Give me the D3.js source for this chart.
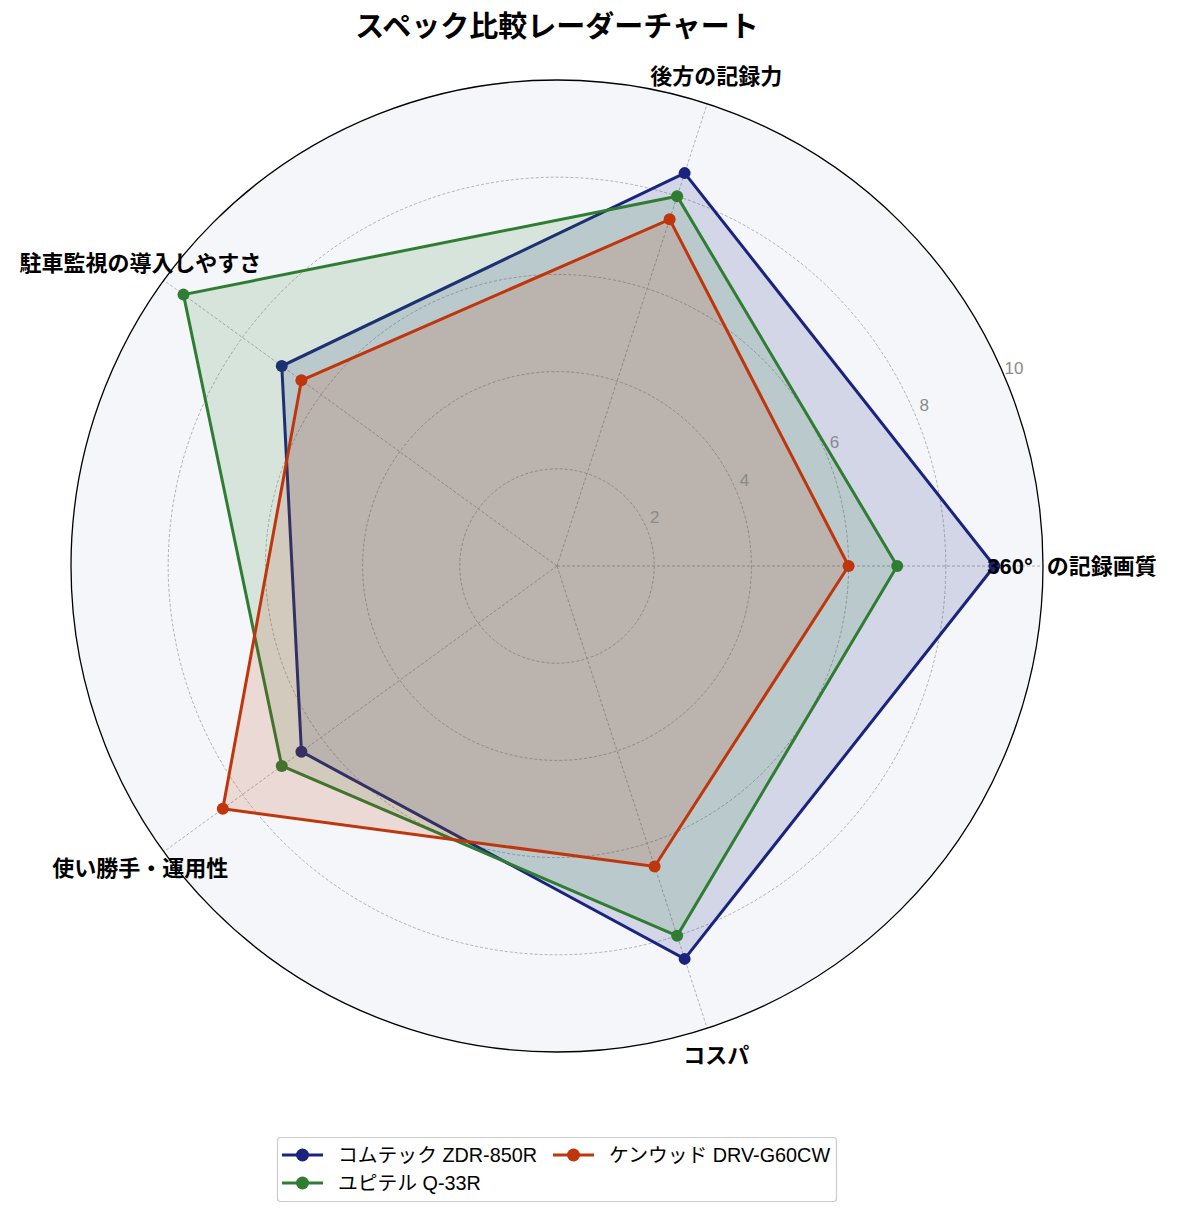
<!DOCTYPE html>
<html>
<head>
<meta charset="utf-8">
<title>スペック比較レーダーチャート</title>
<script src="https://cdn.jsdelivr.net/npm/d3@7"></script>
<style>
  body { margin: 0; background: #fff; }
  text { font-family: "Liberation Sans", "Noto Sans CJK JP", sans-serif; }
</style>
</head>
<body>
<div id="container"></div>
<script>
  var categories = ["360°の記録画質", "後方の記録力", "駐車監視の導入しやすさ", "使い勝手・運用性", "コスパ"];
  var seriesNames = ["コムテック ZDR-850R", "ユピテル Q-33R", "ケンウッド DRV-G60CW"];
  var comtec = [9, 8.5, 7, 6.5, 8.5];
  var yupiteru = [7, 8, 9.5, 7, 8];
  var kenwood = [6, 7.5, 6.5, 8.5, 6.5];
  var rTicks = [2, 4, 6, 8, 10];
  var colors = ["#1a237e", "#2e7d32", "#bf360c"];

  var width = 1181, height = 1215;
  var cx = 557, cy = 566, R = 486;

  var svg = d3.select("#container").append("svg")
    .attr("width", width)
    .attr("height", height);

  var r = d3.scaleLinear().domain([0, 10]).range([0, R]);
  var angle = d3.scaleLinear().domain([0, categories.length]).range([0, 2 * Math.PI]);

  // polar -> screen, angle counterclockwise from east
  function px(a, v) { return cx + r(v) * Math.cos(a); }
  function py(a, v) { return cy - r(v) * Math.sin(a); }

  var g = svg.append("g");

  g.append("circle")
    .attr("cx", cx).attr("cy", cy).attr("r", R)
    .attr("fill", "#f4f6fa");

  // grid circles
  g.selectAll(".rgrid")
    .data(rTicks.slice(0, -1))
    .enter().append("circle")
    .attr("cx", cx).attr("cy", cy)
    .attr("r", function(d) { return r(d); })
    .attr("fill", "none")
    .attr("stroke", "#a0a0a0")
    .attr("stroke-width", 0.8)
    .attr("stroke-dasharray", "3,2");

  // spokes
  g.selectAll(".spoke")
    .data(categories)
    .enter().append("line")
    .attr("x1", cx).attr("y1", cy)
    .attr("x2", function(d, i) { return px(angle(i), 10); })
    .attr("y2", function(d, i) { return py(angle(i), 10); })
    .attr("stroke", "#a0a0a0")
    .attr("stroke-width", 0.8)
    .attr("stroke-dasharray", "3,2");

  // series
  var allData = [comtec, yupiteru, kenwood];
  allData.forEach(function(vals, s) {
    var pts = vals.map(function(v, i) { return [px(angle(i), v), py(angle(i), v)]; });
    g.append("polygon")
      .attr("points", pts.map(function(p) { return p.join(","); }).join(" "))
      .attr("fill", colors[s])
      .attr("fill-opacity", 0.15)
      .attr("stroke", "none");
    g.append("path")
      .attr("d", d3.line()(pts.concat([pts[0]])))
      .attr("fill", "none")
      .attr("stroke", colors[s])
      .attr("stroke-width", 3)
      .attr("stroke-linejoin", "miter");
    g.selectAll(".dot" + s)
      .data(pts)
      .enter().append("circle")
      .attr("cx", function(d) { return d[0]; })
      .attr("cy", function(d) { return d[1]; })
      .attr("r", 6)
      .attr("fill", colors[s]);
  });

  // outer spine
  g.append("circle")
    .attr("cx", cx).attr("cy", cy).attr("r", R)
    .attr("fill", "none")
    .attr("stroke", "#000")
    .attr("stroke-width", 1.3);

  // radial tick labels
  var labA = 22.5 * Math.PI / 180;
  g.selectAll(".rlab")
    .data(rTicks)
    .enter().append("text")
    .attr("x", function(d) { return px(labA, d) + 8; })
    .attr("y", function(d) { return py(labA, d) - 11.5; })
    .attr("text-anchor", "middle")
    .attr("dominant-baseline", "central")
    .attr("font-size", 17)
    .attr("fill", "#8a8a8a")
    .text(function(d) { return d; });

  // category labels (the degree sign is set full width, as in the original)
  g.selectAll(".cat")
    .data(categories)
    .enter().append("text")
    .attr("x", function(d, i) { return cx + (R + 29) * Math.cos(angle(i)); })
    .attr("y", function(d, i) { return cy - (R + 29) * Math.sin(angle(i)); })
    .attr("text-anchor", "middle")
    .attr("dominant-baseline", "central")
    .attr("font-size", 22)
    .attr("font-weight", "bold")
    .attr("fill", "#000")
    .each(function(d) {
      var t = d3.select(this);
      var k = d.indexOf("°");
      if (k < 0) { t.text(d); return; }
      t.append("tspan").text(d.slice(0, k + 1));
      t.append("tspan").attr("dx", 14).text(d.slice(k + 1));
    });

  // title
  svg.append("text")
    .attr("x", cx).attr("y", 27)
    .attr("text-anchor", "middle")
    .attr("dominant-baseline", "central")
    .attr("font-size", 29)
    .attr("font-weight", "bold")
    .text("スペック比較レーダーチャート");

  // legend
  var lg = svg.append("g");
  lg.append("rect")
    .attr("x", 277.5).attr("y", 1137.5)
    .attr("width", 559).attr("height", 64)
    .attr("rx", 3)
    .attr("fill", "#fff")
    .attr("stroke", "#cccccc")
    .attr("stroke-width", 1.2);
  var legPos = [[282, 1155], [282, 1183], [553, 1155]];
  seriesNames.forEach(function(name, s) {
    var x0 = legPos[s][0], y0 = legPos[s][1];
    lg.append("line")
      .attr("x1", x0).attr("x2", x0 + 41)
      .attr("y1", y0).attr("y2", y0)
      .attr("stroke", colors[s]).attr("stroke-width", 3);
    lg.append("circle")
      .attr("cx", x0 + 20.5).attr("cy", y0).attr("r", 6.5)
      .attr("fill", colors[s]);
    lg.append("text")
      .attr("x", x0 + 56).attr("y", y0)
      .attr("dominant-baseline", "central")
      .attr("font-size", 19.8)
      .attr("fill", "#000")
      .text(name);
  });
</script>
</body>
</html>
